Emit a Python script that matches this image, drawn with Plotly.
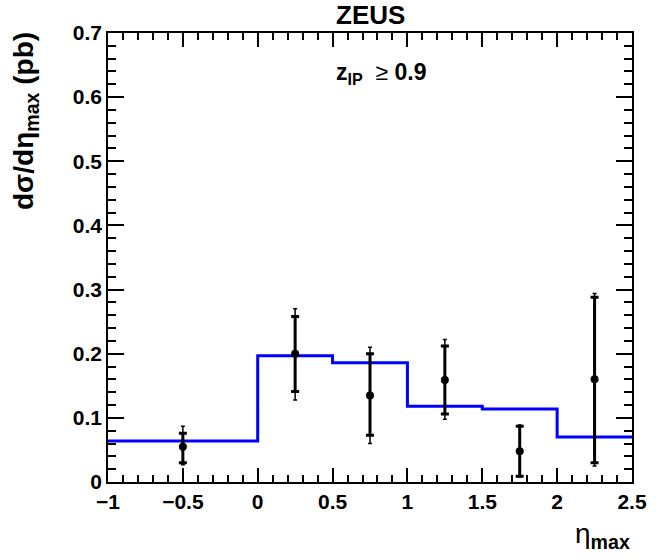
import plotly.graph_objects as go

# Data
bin_edges = [-1.0, 0.0, 0.5, 1.0, 1.5, 2.0, 2.5]
theory = [0.064, 0.197, 0.186, 0.118, 0.114, 0.070]

x_pts = [-0.5, 0.25, 0.75, 1.25, 1.75, 2.25]
y_pts = [0.055, 0.200, 0.135, 0.159, 0.048, 0.160]
stat_up = [0.021, 0.058, 0.065, 0.053, 0.039, 0.128]
stat_dn = [0.025, 0.059, 0.062, 0.053, 0.039, 0.130]
tot_up = [0.032, 0.070, 0.075, 0.063, 0.041, 0.134]
tot_dn = [0.028, 0.072, 0.075, 0.061, 0.040, 0.135]

FONT = "Liberation Sans"

# step histogram
hx, hy = [], []
for i, v in enumerate(theory):
    hx += [bin_edges[i], bin_edges[i + 1]]
    hy += [v, v]

fig = go.Figure()
fig.add_trace(go.Scatter(x=hx, y=hy, mode="lines",
                         line=dict(color="#0000ff", width=3), showlegend=False))
fig.add_trace(go.Scatter(x=x_pts, y=y_pts, mode="markers",
                         marker=dict(size=1, color="black"),
                         error_y=dict(type="data", symmetric=False, array=tot_up, arrayminus=tot_dn,
                                      color="black", thickness=1.5, width=2),
                         showlegend=False))
fig.add_trace(go.Scatter(x=x_pts, y=y_pts, mode="markers",
                         marker=dict(size=8, color="black"),
                         error_y=dict(type="data", symmetric=False, array=stat_up, arrayminus=stat_dn,
                                      color="black", thickness=3, width=4),
                         showlegend=False))

axis_common = dict(showgrid=False, zeroline=False, showline=True, linecolor="black", linewidth=1.5,
                   mirror="allticks", ticks="inside", tickcolor="black", tickwidth=1.5,
                   tickfont=dict(family=FONT, size=21, color="black", weight="bold"))

fig.update_xaxes(range=[-1, 2.5], ticklen=14,
                 minor=dict(dtick=0.1, ticks="inside", ticklen=7, tickcolor="black", tickwidth=1.5),
                 tickvals=[-1, -0.5, 0, 0.5, 1, 1.5, 2, 2.5],
                 ticktext=["\u22121", "\u22120.5", "0", "0.5", "1", "1.5", "2", "2.5"],
                 **axis_common)
fig.update_yaxes(range=[0, 0.7], ticklen=16,
                 minor=dict(dtick=0.02, ticks="inside", ticklen=8, tickcolor="black", tickwidth=1.5),
                 tickvals=[0, 0.1, 0.2, 0.3, 0.4, 0.5, 0.6, 0.7],
                 ticktext=["0", "0.1", "0.2", "0.3", "0.4", "0.5", "0.6", "0.7"],
                 **axis_common)

fig.add_annotation(text="<b>ZEUS</b>", xref="paper", yref="paper", x=0.5, y=1.0,
                   xanchor="center", yanchor="bottom", yshift=1, showarrow=False,
                   font=dict(family=FONT, size=26, color="black"))
fig.add_annotation(text="<b>z<sub>IP</sub></b>  \u2265 <b>0.9</b>", xref="x", yref="y",
                   x=0.83, y=0.637, xanchor="center", yanchor="middle", showarrow=False,
                   font=dict(family=FONT, size=23, color="black"))
fig.add_annotation(text="<b>d\u03c3/d\u03b7<sub>max</sub> (pb)</b>", xref="paper", yref="paper",
                   x=0, y=1.0, yshift=3, xshift=-83, xanchor="center", yanchor="top", textangle=-90,
                   showarrow=False, font=dict(family=FONT, size=28, color="black"))
fig.add_annotation(text="\u03b7<b><sub>max</sub></b>", xref="paper", yref="paper",
                   x=1.0, y=0, yshift=-34, xanchor="right", yanchor="top", showarrow=False,
                   font=dict(family=FONT, size=28, color="black"))

fig.update_layout(width=661, height=560, paper_bgcolor="white", plot_bgcolor="white",
                  margin=dict(l=108, r=29, t=33, b=78))

fig.write_html("out.html")
